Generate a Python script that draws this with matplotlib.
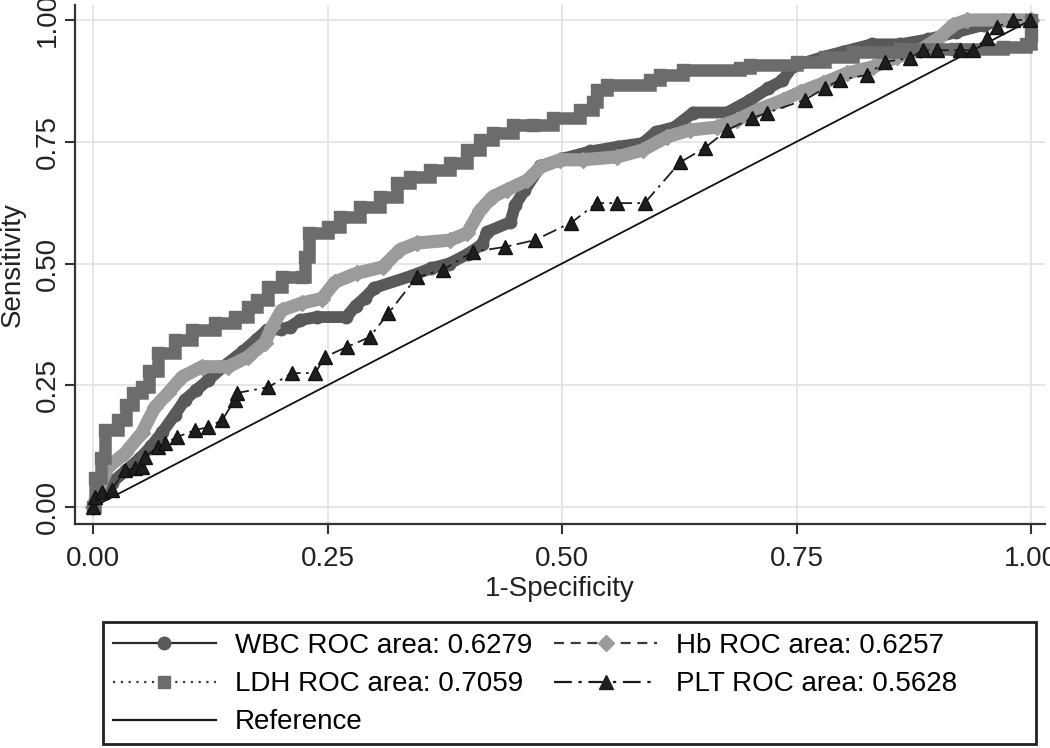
import numpy as np
import matplotlib
matplotlib.use('Agg')
import matplotlib.pyplot as plt
from matplotlib.lines import Line2D
from matplotlib.patches import Rectangle

plt.rcParams['font.family'] = ['Liberation Sans', 'DejaVu Sans']

# ROC curves (x = 1-specificity, y = sensitivity)
wbc_x = [0.0, 0.01, 0.02, 0.035, 0.05, 0.062, 0.074, 0.087, 0.098, 0.11, 0.123, 0.14, 0.16,
         0.175, 0.185, 0.2, 0.21, 0.221, 0.239, 0.27, 0.28, 0.29, 0.3, 0.34, 0.36, 0.38, 0.4,
         0.415, 0.42, 0.445, 0.45, 0.46, 0.477, 0.5, 0.53, 0.56, 0.586, 0.6, 0.62, 0.64, 0.676,
         0.7, 0.72, 0.735, 0.746, 0.78, 0.8, 0.83, 0.86, 0.89, 0.92, 0.95, 0.97, 1.0]
wbc_y = [0.0, 0.03, 0.05, 0.075, 0.1, 0.125, 0.154, 0.189, 0.22, 0.24, 0.261, 0.29, 0.32,
         0.345, 0.363, 0.365, 0.37, 0.384, 0.39, 0.39, 0.413, 0.43, 0.45, 0.475, 0.49, 0.5, 0.52,
         0.54, 0.565, 0.585, 0.62, 0.65, 0.7, 0.715, 0.73, 0.74, 0.747, 0.77, 0.78, 0.81, 0.81,
         0.835, 0.86, 0.876, 0.905, 0.925, 0.935, 0.95, 0.95, 0.96, 0.975, 0.99, 1.0, 1.0]

hb_x = [0.0, 0.005, 0.016, 0.034, 0.052, 0.066, 0.08, 0.095, 0.116, 0.144, 0.165, 0.183, 0.191,
        0.201, 0.223, 0.244, 0.258, 0.281, 0.309, 0.327, 0.345, 0.381, 0.399, 0.413, 0.426,
        0.441, 0.463, 0.477, 0.498, 0.522, 0.559, 0.586, 0.612, 0.636, 0.665, 0.687, 0.708,
        0.736, 0.754, 0.778, 0.804, 0.832, 0.857, 0.882, 0.903, 0.917, 0.932, 1.0]
hb_y = [0.0, 0.03, 0.082, 0.11, 0.152, 0.205, 0.234, 0.267, 0.288, 0.288, 0.308, 0.337, 0.37,
        0.404, 0.419, 0.428, 0.462, 0.48, 0.493, 0.528, 0.542, 0.548, 0.563, 0.61, 0.637,
        0.651, 0.671, 0.698, 0.713, 0.713, 0.719, 0.733, 0.76, 0.774, 0.78, 0.795, 0.815,
        0.836, 0.852, 0.87, 0.891, 0.904, 0.924, 0.938, 0.965, 0.99, 1.0, 1.0]

ldh_x = [0.0, 0.002, 0.008, 0.013, 0.027, 0.035, 0.043, 0.052, 0.06, 0.069, 0.087, 0.106,
         0.13, 0.151, 0.165, 0.175, 0.187, 0.201, 0.223, 0.226, 0.23, 0.251, 0.263, 0.285,
         0.306, 0.324, 0.338, 0.359, 0.381, 0.399, 0.413, 0.426, 0.448, 0.469, 0.49, 0.519,
         0.533, 0.537, 0.548, 0.594, 0.604, 0.629, 0.69, 0.7, 0.751, 0.78, 0.81, 0.86, 0.92,
         0.97, 0.995, 1.0, 1.0]
ldh_y = [0.0, 0.06, 0.1, 0.158, 0.179, 0.21, 0.234, 0.246, 0.28, 0.316, 0.343, 0.363,
         0.378, 0.39, 0.41, 0.425, 0.452, 0.472, 0.472, 0.513, 0.563, 0.575, 0.595, 0.616,
         0.637, 0.665, 0.678, 0.692, 0.706, 0.733, 0.754, 0.768, 0.784, 0.784, 0.799, 0.815,
         0.832, 0.856, 0.867, 0.877, 0.887, 0.897, 0.901, 0.908, 0.914, 0.925, 0.935, 0.94, 0.94,
         0.945, 0.95, 0.97, 1.0]

plt_x = [0.0, 0.002, 0.01, 0.02, 0.034, 0.045, 0.052, 0.055, 0.069, 0.077, 0.09, 0.109, 0.123,
         0.138, 0.151, 0.153, 0.187, 0.212, 0.237, 0.247, 0.271, 0.295, 0.315, 0.345, 0.373,
         0.405, 0.439, 0.471, 0.51, 0.537, 0.559, 0.588, 0.626, 0.652, 0.676, 0.703, 0.718,
         0.759, 0.78, 0.796, 0.825, 0.844, 0.871, 0.885, 0.9, 0.924, 0.938, 0.953, 0.964,
         0.981, 0.999]
plt_y = [0.0, 0.021, 0.03, 0.035, 0.076, 0.08, 0.082, 0.103, 0.123, 0.131, 0.144, 0.158, 0.164,
         0.179, 0.22, 0.234, 0.246, 0.275, 0.275, 0.308, 0.329, 0.349, 0.398, 0.472, 0.487,
         0.524, 0.534, 0.548, 0.584, 0.624, 0.624, 0.624, 0.708, 0.737, 0.774, 0.799, 0.809,
         0.836, 0.86, 0.877, 0.887, 0.914, 0.922, 0.938, 0.938, 0.938, 0.938, 0.963, 0.986,
         1.0, 1.0]

ref_x = [0, 1]
ref_y = [0, 1]

ticks = [0, 0.25, 0.5, 0.75, 1.0]
tick_labels = ['0.00', '0.25', '0.50', '0.75', '1.00']

labels = ['WBC ROC area: 0.6279', 'Hb ROC area: 0.6257',
          'LDH ROC area: 0.7059', 'PLT ROC area: 0.5628', 'Reference']

c_wbc = '#595959'
c_hb = '#9b9b9b'
c_ldh = '#6c6c6c'
c_plt = '#1e1e1e'

fig = plt.figure(figsize=(10.5, 7.48), dpi=100)
ax = fig.add_axes([75 / 1050, 1 - 524 / 748, 970 / 1050, 519 / 748])

# thick bands stand in for the densely packed markers
ax.plot(wbc_x, wbc_y, color=c_wbc, lw=8.5, solid_joinstyle='round', solid_capstyle='round', zorder=3)
ax.plot(wbc_x, wbc_y, ls='none', marker='o', ms=9, color=c_wbc, zorder=3)
ax.plot(hb_x, hb_y, color=c_hb, lw=9.5, solid_joinstyle='round', solid_capstyle='round', zorder=4)
ax.plot(hb_x, hb_y, ls='none', marker='D', ms=8, color=c_hb, zorder=4)
ax.plot(ldh_x, ldh_y, color=c_ldh, lw=9, drawstyle='steps-post', solid_joinstyle='miter',
        solid_capstyle='projecting', zorder=5)
ax.plot(ldh_x, ldh_y, ls='none', marker='s', ms=8.5, color=c_ldh, zorder=5)
ax.plot(ref_x, ref_y, color='#111111', lw=1.3, zorder=6)
ax.plot(plt_x, plt_y, color=c_plt, lw=1.3, dashes=(8, 3, 1.5, 3), marker='^', ms=10,
        markeredgecolor='#111111', zorder=7)

ax.set_xlim(-0.0192, 1.0149)
ax.set_ylim(-0.0349, 1.0308)
ax.set_xticks(ticks)
ax.set_xticklabels(tick_labels)
ax.set_yticks(ticks)
ax.set_yticklabels(tick_labels, rotation=90, va='center')
ax.tick_params(axis='both', length=7, width=1.5, color='#333333', labelsize=20, labelcolor='#222222')
ax.tick_params(axis='x', pad=9)
ax.tick_params(axis='y', pad=3)

for s in ['top', 'right']:
    ax.spines[s].set_visible(False)
for s in ['left', 'bottom']:
    ax.spines[s].set_linewidth(1.6)
    ax.spines[s].set_color('#333333')

ax.grid(color='#e4e4e4', lw=1.3)
ax.set_axisbelow(True)

ax.set_xlabel('1-Specificity', fontsize=20, color='#222222', va='top')
ax.xaxis.set_label_coords(0.5, -0.1)
ax.set_ylabel('Sensitivity', fontsize=20, color='#222222')
ax.yaxis.set_label_coords(-0.0505, 0.5)

# legend proxies
h_wbc = Line2D([], [], color='#2a2a2a', lw=1.6, marker='o', ms=9, mfc=c_wbc, mec=c_wbc)
h_hb = Line2D([], [], color='#3a3a3a', lw=1.6, dashes=(4.5, 3), marker='D', ms=8.5, mfc=c_hb, mec=c_hb)
h_ldh = Line2D([], [], color='#3a3a3a', lw=1.6, dashes=(1, 2.5), marker='s', ms=8.5, mfc=c_ldh, mec=c_ldh)
h_plt = Line2D([], [], color='#1a1a1a', lw=1.6, dashes=(8, 3, 1.5, 3), marker='^', ms=9.5, mfc=c_plt, mec=c_plt)
h_ref = Line2D([], [], color='#1a1a1a', lw=1.6)

fig.patches.append(Rectangle((103 / 1050, 4 / 748), 933 / 1050, 122 / 748, transform=fig.transFigure,
                             fill=False, edgecolor='#222222', lw=2))
fig.legend([h_wbc, h_ldh, h_ref, h_hb, h_plt],
           [labels[0], labels[2], labels[4], labels[1], labels[3]],
           ncol=2, loc='upper left', bbox_to_anchor=(113 / 1050, 1 - 633 / 748),
           frameon=False, fontsize=20, borderpad=0, borderaxespad=0,
           handlelength=3.7, handletextpad=0.68, columnspacing=0.8, labelspacing=0.44)

fig.savefig('out.png', dpi=100)
